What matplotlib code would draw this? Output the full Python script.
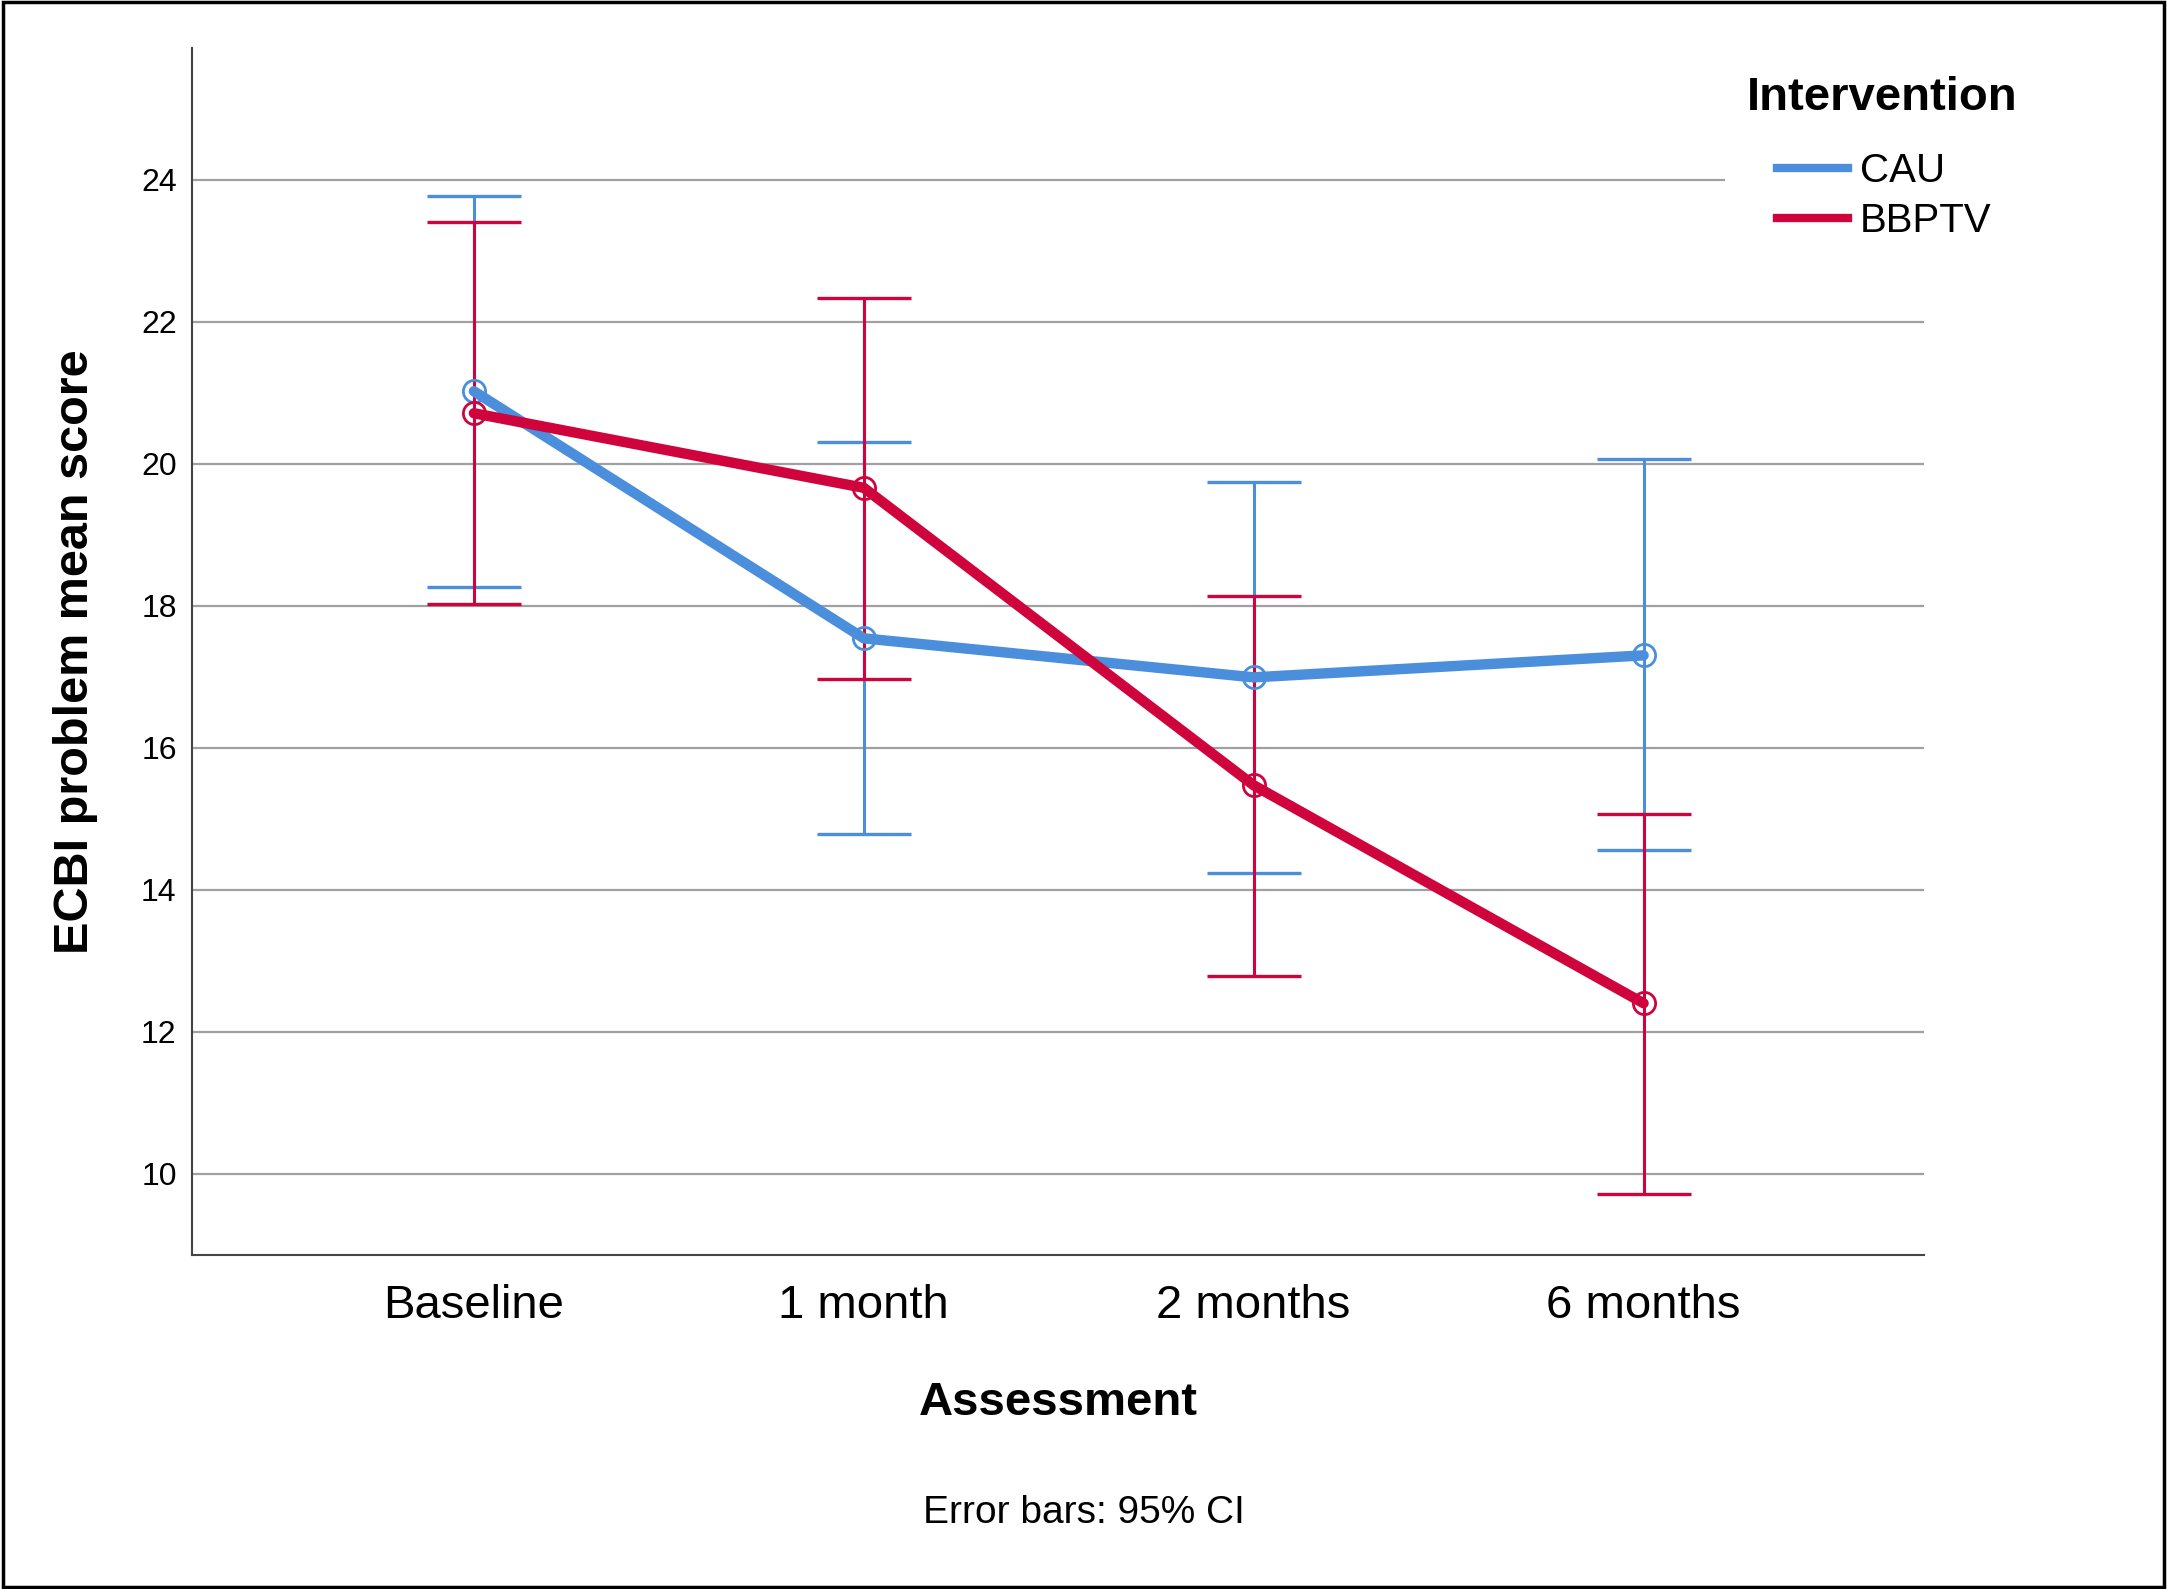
import numpy as np
import matplotlib.pyplot as plt
from matplotlib.lines import Line2D
from matplotlib.patches import Rectangle

plt.rcParams['font.family'] = ['Liberation Sans', 'DejaVu Sans']

# data
assessments = ['Baseline', '1 month', '2 months', '6 months']
cau_mean = [21.02, 17.54, 16.99, 17.30]
cau_lo = [18.26, 14.79, 14.23, 14.56]
cau_hi = [23.77, 20.30, 19.74, 20.07]
bbptv_mean = [20.71, 19.66, 15.47, 12.40]
bbptv_lo = [18.02, 16.97, 12.79, 9.71]
bbptv_hi = [23.40, 22.33, 18.14, 15.06]
yticks = [10, 12, 14, 16, 18, 20, 22, 24]

blue = '#4A8EDC'
red = '#D0043C'

fig = plt.figure(figsize=(21.67, 15.89), dpi=100)
ax = fig.add_axes([0.0886, 0.210, 0.7994, 0.7596])

x = np.arange(len(assessments))
groups = [('CAU', cau_mean, cau_lo, cau_hi, blue),
          ('BBPTV', bbptv_mean, bbptv_lo, bbptv_hi, red)]

for name, m, lo, hi, c in groups:
    m = np.array(m)
    yerr = [m - np.array(lo), np.array(hi) - m]
    ax.errorbar(x, m, yerr=yerr, fmt='none', ecolor=c, elinewidth=2.2,
                capsize=34, capthick=2.4, zorder=3)

for name, m, lo, hi, c in groups:
    ax.plot(x, m, color=c, lw=7.5, marker='o', markersize=16, mfc='none',
            mec=c, mew=2, zorder=4, solid_capstyle='round')

ax.set_xlim(-0.723, 3.72)
ax.set_ylim(8.85, 25.85)
ax.set_xticks(x)
ax.set_xticklabels(assessments, fontsize=34)
ax.set_yticks(yticks)
ax.set_yticklabels([str(t) for t in yticks], fontsize=23)
ax.tick_params(axis='both', length=0)
ax.tick_params(axis='x', pad=21)
ax.tick_params(axis='y', pad=11)

ax.grid(axis='y', color='#A0A0A0', lw=1.6, zorder=0)
ax.set_axisbelow(True)
for s in ['top', 'right']:
    ax.spines[s].set_visible(False)
for s in ['left', 'bottom']:
    ax.spines[s].set_color('#444444')
    ax.spines[s].set_linewidth(1.5)

ax.set_xlabel('Assessment', fontsize=34, fontweight='bold', labelpad=38)
ax.set_ylabel('ECBI problem mean score', fontsize=35, fontweight='bold')
ax.yaxis.set_label_coords(-0.054, 0.5)

handles = [Line2D([0], [0], color=blue, lw=6),
           Line2D([0], [0], color=red, lw=6)]
leg = ax.legend(handles, ['CAU', 'BBPTV'], loc='upper left',
                bbox_to_anchor=(1725 / 2167, 1 - 100 / 1589),
                bbox_transform=fig.transFigure, borderaxespad=0,
                fontsize=29, frameon=True, facecolor='white', edgecolor='none',
                framealpha=1, borderpad=1.3, handlelength=1.75,
                handletextpad=0.3, labelspacing=0.3, fancybox=False)
leg.set_zorder(5)

fig.text(1747 / 2167, 1 - 98 / 1589, 'Intervention', fontsize=34,
         fontweight='bold', ha='left', va='center')
fig.text(0.5, 1 - 1513 / 1589, 'Error bars: 95% CI', fontsize=28,
         ha='center', va='center')

fig.patches.append(Rectangle((0.0012, 0.0015), 0.9976, 0.997,
                             transform=fig.transFigure, fill=False,
                             edgecolor='black', lw=2.5))

fig.savefig('out.png', dpi=100)
